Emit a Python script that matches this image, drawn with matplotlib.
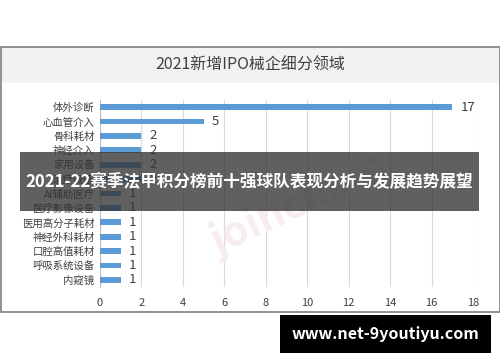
import matplotlib
matplotlib.use("Agg")
import matplotlib.pyplot as plt
from matplotlib.patches import Rectangle

plt.rcParams['font.family'] = ['Noto Sans CJK SC', 'DejaVu Sans']

categories = ["体外诊断", "心血管介入", "骨科耗材", "神经介入", "家用设备", "治疗设备",
              "AI辅助医疗", "医疗影像设备", "医用高分子耗材", "神经外科耗材",
              "口腔高值耗材", "呼吸系统设备", "内窥镜"]
values = [17, 5, 2, 2, 2, 2, 1, 1, 1, 1, 1, 1, 1]
xticks = [0, 2, 4, 6, 8, 10, 12, 14, 16, 18]
title = "2021新增IPO械企细分领域"
banner = "2021-22赛季法甲积分榜前十强球队表现分析与发展趋势展望"
site = "www.net-9youtiyu.com"

W, H = 500, 362
fig = plt.figure(figsize=(W / 100, H / 100), dpi=100)

def fx(px): return px / W
def fy(py): return 1 - py / H

# outer frame and title band
fig.patches.append(Rectangle((fx(0.5), fy(312)), fx(499), (312 - 47) / H, transform=fig.transFigure,
                             facecolor='white', edgecolor='#7f7f7f', linewidth=1.2, zorder=-2))
fig.patches.append(Rectangle((fx(1.5), fy(83)), fx(497), (83 - 48) / H, transform=fig.transFigure,
                             facecolor='#f2f2f2', edgecolor='none', zorder=-1))
fig.text(0.5, fy(65), title, ha='center', va='center', fontsize=11.5, color='#404040')

ax = fig.add_axes([fx(100), fy(287), fx(473 - 100), (287 - 100) / H])
ypos = list(range(len(categories)))
ax.barh(ypos, values, height=0.4, color='#5b9bd5', zorder=3)
for y, v in zip(ypos, values):
    ax.text(v + 0.4, y, str(v), va='center', ha='left', fontsize=9.5, color='#404040')
ax.set_yticks(ypos)
ax.set_yticklabels(categories, fontsize=7.5, color='#404040')
ax.set_ylim(len(categories) - 0.5, -0.5)
ax.set_xlim(0, 18)
ax.set_xticks(xticks)
ax.set_xticklabels([str(t) for t in xticks], fontsize=8, color='#404040')
ax.tick_params(axis='both', length=0, pad=4)
ax.tick_params(axis='x', pad=8)
ax.grid(axis='x', color='#d9d9d9', linewidth=0.8, zorder=0)
for s in ['top', 'right', 'bottom']:
    ax.spines[s].set_visible(False)
ax.spines['left'].set_color('#bfbfbf')
ax.set_facecolor('none')

# faint watermark
fig.text(fx(300), fy(205), "joinchain", rotation=25, fontsize=30, color='#f8eded',
         ha='center', va='center', fontweight='bold', zorder=1)

# banner overlay
fig.patches.append(Rectangle((fx(20), fy(211)), fx(459), (211 - 152) / H, transform=fig.transFigure,
                             facecolor='#333333', alpha=0.78, edgecolor='none', zorder=10))
fig.text(fx(249), fy(182), banner, ha='center', va='center', fontsize=12, fontweight='bold',
         color='white', zorder=11)

# site box
fig.patches.append(Rectangle((fx(280), fy(353)), fx(211), (353 - 315) / H, transform=fig.transFigure,
                             facecolor='black', edgecolor='none', zorder=10))
fig.text(fx(385), fy(334), site, ha='center', va='center', fontsize=11.5, fontweight='bold',
         color='white', zorder=11)

fig.savefig("out.png", dpi=100)
